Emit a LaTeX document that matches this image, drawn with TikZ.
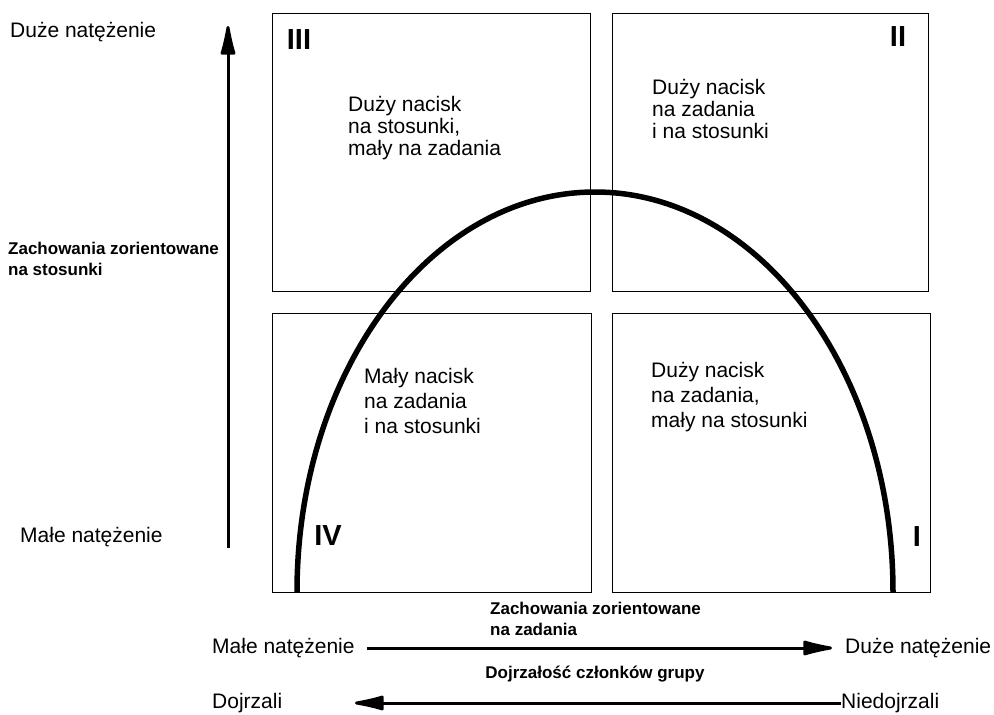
\documentclass[tikz,border=0pt]{standalone}
\usepackage{fontspec}
\setmainfont{Liberation Sans}
\usetikzlibrary{arrows.meta}
\begin{document}
\begin{tikzpicture}[x=1pt,y=-1pt,
  quad/.style={draw=black,line width=1.4pt,inner sep=0pt,anchor=north west},
  boxtext/.style={anchor=base west,align=left,inner sep=0pt,font=\fontsize{21}{22}\selectfont},
  boxtextb/.style={anchor=base west,align=left,inner sep=0pt,font=\fontsize{21}{25}\selectfont},
  label/.style={anchor=west,inner sep=0pt,font=\fontsize{21}{24}\selectfont},
  axis/.style={align=left,inner sep=0pt,font=\bfseries\fontsize{17}{21}\selectfont},
  roman/.style={inner sep=0pt,font=\bfseries\fontsize{29}{29}\selectfont},
  bigarrow/.style={line width=3pt,-{Latex[length=38pt,width=16pt,round]}}]
\useasboundingbox (0,0) rectangle (994,715);
% quadrants
\node[quad,minimum width=318pt,minimum height=278pt] (q3) at (272,13) {};
\node[quad,minimum width=316pt,minimum height=278pt] (q2) at (612,13) {};
\node[quad,minimum width=319pt,minimum height=279pt] (q4) at (272,313) {};
\node[quad,minimum width=318pt,minimum height=279pt] (q1) at (612,313) {};
% roman numerals
\node[roman] (r3) at (299,40) {III};
\node[roman] (r2) at (898,37) {II};
\node[roman] (r4) at (328,536) {IV};
\node[roman] (r1) at (917,537) {I};
% box texts (anchored at the baseline of the last line)
\node[boxtext] (t3) at (348,155) {Duży nacisk\\na stosunki,\\mały na zadania};
\node[boxtext] (t2) at (652,138) {Duży nacisk\\na zadania\\i na stosunki};
\node[boxtextb] (t4) at (364,433) {Mały nacisk\\na zadania\\i na stosunki};
\node[boxtextb] (t1) at (651,427) {Duży nacisk\\na zadania,\\mały na stosunki};
% arc
\draw[line width=5.5pt] (297,592) arc[start angle=180,end angle=0,x radius=298pt,y radius=400pt];
% left labels
\node[label] (hi) at (10,32) {Duże natężenie};
\node[label] (lo) at (20,537) {Małe natężenie};
\node[axis,anchor=north west] (ax1) at (8,242) {Zachowania zorientowane\\na stosunki};
\coordinate (vbot) at (228,548);
\coordinate (vtop) at (228,26);
\draw[bigarrow] (vbot) -- (vtop);
% bottom labels
\node[axis,anchor=north west] (ax2) at (490,602) {Zachowania zorientowane\\na zadania};
\node[label] (lo2) at (212,648) {Małe natężenie};
\node[label] (hi2) at (845,648) {Duże natężenie};
\draw[bigarrow] (lo2.east) ++(12,0) coordinate (h1s) -- (832,648) coordinate (h1e);
\node[axis,anchor=center] (ax3) at (595,674) {Dojrzałość członków grupy};
\node[label] (dj) at (212,703) {Dojrzali};
\node[label] (nd) at (841,703) {Niedojrzali};
\coordinate (h2e) at (355,703);
\draw[bigarrow] (nd.west) -- (h2e);
\end{tikzpicture}
\end{document}
